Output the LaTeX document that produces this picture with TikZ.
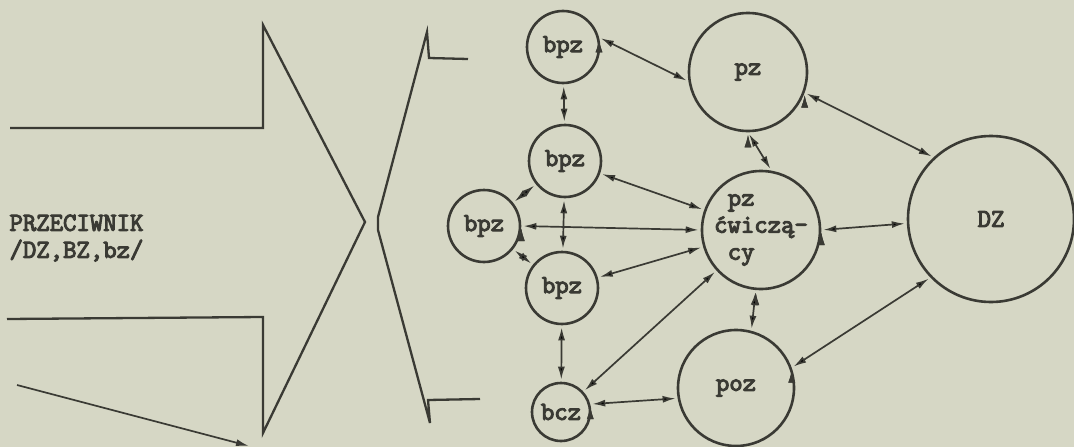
\documentclass[tikz,border=0pt]{standalone}
\usepackage{fontspec}
\setmonofont{Latin Modern Mono}[AutoFakeBold=4]
\usetikzlibrary{arrows.meta}
\definecolor{paper}{RGB}{214,215,197}
\definecolor{ink}{RGB}{58,58,52}
\tikzstyle{scheme}=[x=1pt, y=-1pt, >={Latex[length=13pt,width=7pt]}, font=\fontsize{26}{27}\selectfont\ttfamily\bfseries]
\tikzstyle{unit}=[circle, draw=ink, text=ink, line width=2.6pt, inner sep=0pt, minimum size=72pt]
\tikzstyle{link}=[draw=ink, line width=1.7pt, <->, shorten >=2pt, shorten <=2pt]
\tikzstyle{front}=[draw=ink, line width=2.3pt, line join=miter]

\begin{document}
\begin{tikzpicture}[scheme]
  \fill[paper] (0,0) rectangle (1074,447);
  \useasboundingbox (0,0) rectangle (1074,447);
  % attacking side
  \draw[front] (10,128) -- (263,128) -- (263,25) -- (365,222) -- (263,433) -- (263,317) -- (7,319);
  \draw[front] (468,59) -- (429,58) -- (427,32) -- (378,217) -- (378,230) -- (430,423) -- (428,400) -- (480,399);
  \node[text=ink, align=left, anchor=west] (enemy) at (6,238) {PRZECIWNIK\\/DZ,BZ,bz/};
  \coordinate (tail) at (17,385);
  \coordinate (head) at (249,446);
  \draw[front, line width=1.7pt, ->] (tail) -- (head);
  % defending side
  \node[unit] (bpza) at (563,47) {bpz};
  \node[unit] (bpzb) at (565,161) {bpz};
  \node[unit] (bpzl) at (484,226) {bpz};
  \node[unit] (bpzd) at (562,288) {bpz};
  \node[unit, minimum size=58pt] (bcz) at (561,412) {bcz};
  \node[unit, minimum size=118pt] (pz) at (748,72) {pz};
  \node[unit, minimum size=118pt, align=left] (pzc) at (761,230) {\hspace*{0.525em}pz\\ćwiczą-\\\hspace*{0.525em}cy};
  \node[unit, minimum size=116pt] (poz) at (736,388) {poz};
  \node[unit, minimum size=166pt] (dz) at (991,219) {DZ};
  \path[link] (bpza.15) edge (pz.189);
  \path[link] (bpza) edge (bpzb);
  \path[link] (bpzb) edge (bpzl);
  \path[link] (bpzb) edge (bpzd);
  \path[link] (bpzb) edge (pzc);
  \path[link] (bpzl.east) edge (pzc.west);
  \path[link] (bpzl) edge (bpzd);
  \path[link] (bpzd) edge (pzc);
  \path[link] (bpzd) edge (bcz);
  \path[link] (bcz) edge (pzc);
  \path[link] (bcz.15) edge (poz.190);
  \path[link] (pz.south) edge (pzc.80);
  \path[link] (pz.-20) edge (dz.133);
  \path[link] (pzc.265) edge (poz.75);
  \path[link] (pzc.east) edge (dz.183);
  \path[link] (poz.20) edge (dz.224);
\end{tikzpicture}
\end{document}
